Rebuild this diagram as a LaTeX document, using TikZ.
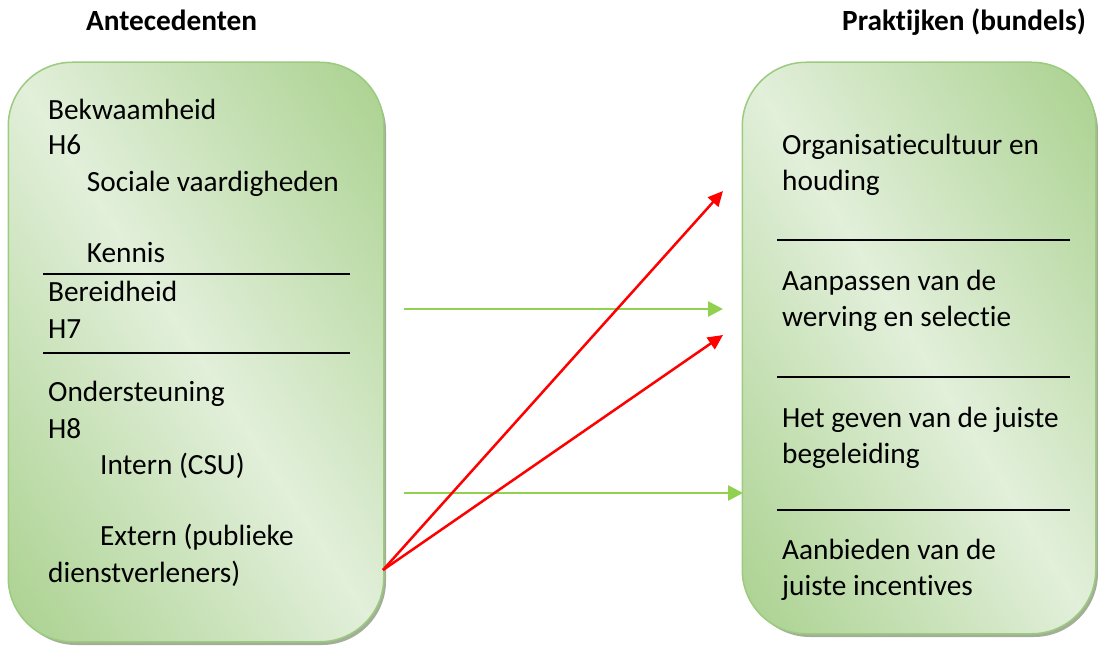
\documentclass[tikz,border=0pt]{standalone}
\usepackage{fontspec}
\setmainfont{Carlito}[Ligatures={NoCommon,NoRare,NoContextual,NoRequired}]
\usetikzlibrary{arrows.meta,shadows}
\definecolor{gdark}{HTML}{A9D18E}
\definecolor{glight}{HTML}{E2EFDA}
\definecolor{gedge}{HTML}{9CCB80}
\definecolor{gshadow}{HTML}{A3AE98}
\definecolor{garrow}{HTML}{92D050}
\definecolor{rarrow}{HTML}{FF0000}
\tikzset{
  panel/.style={draw=gedge, line width=1.5pt, rounded corners=64pt,
    drop shadow={shadow xshift=3pt, shadow yshift=-4pt, fill=gshadow, opacity=1},
    fill=gdark, inner sep=0pt},
  panelrim/.style={draw=gedge, line width=1.5pt, rounded corners=64pt},
  panelshade/.style={left color=gdark, right color=gdark, middle color=glight},
  txt/.style={anchor=base west, inner sep=0pt, font=\fontsize{29.3}{35.8}\selectfont},
  hdr/.style={anchor=base west, inner sep=0pt, font=\fontsize{29.3}{35.8}\selectfont\bfseries},
  sep/.style={black, line width=2pt},
  garr/.style={draw=garrow, line width=2.7pt, -{Triangle[length=15pt,width=15pt]}},
  rarr/.style={draw=rarrow, line width=2.5pt, -{Triangle[length=15pt,width=14pt]}},
}
\begin{document}
\begin{tikzpicture}[x=1pt,y=-1pt]
\useasboundingbox (0,0) rectangle (1098,650);
% headers
\node[hdr] (hA) at (86,30.7) {Antecedenten};
\node[hdr] (hP) at (842,30.7) {Praktijken (bundels)};
% panels
\node[panel, minimum width=374pt, minimum height=578pt] (L) at (196,352) {};
\node[panel, minimum width=352pt, minimum height=570pt] (R) at (919,348) {};
\begin{scope}
  \clip[rounded corners=64pt] (L.north west) rectangle (L.south east);
  \fill[panelshade, transform canvas={shift={(196pt,-352pt)}, rotate=33}] (-318,-420) rectangle (318,420);
\end{scope}
\begin{scope}
  \clip[rounded corners=64pt] (R.north west) rectangle (R.south east);
  \fill[panelshade, transform canvas={shift={(919pt,-348pt)}, rotate=31.7}] (-303,-420) rectangle (303,420);
\end{scope}
\draw[panelrim] (L.north west) rectangle (L.south east);
\draw[panelrim] (R.north west) rectangle (R.south east);
% left texts
\node[txt] (l1) at (48,119.3) {Bekwaamheid};
\node[txt] (l2) at (48,155) {H6};
\node[txt] (l3) at (86.7,191) {Sociale vaardigheden};
\node[txt] (l4) at (86.7,262.7) {Kennis};
\node[txt] (l5) at (48,301.7) {Bereidheid};
\node[txt] (l6) at (48,338.3) {H7};
\node[txt] (l7) at (48,401.7) {Ondersteuning};
\node[txt] (l8) at (48,438.3) {H8};
\node[txt] (l9) at (100,474) {Intern (CSU)};
\node[txt] (l10) at (100,545) {Extern (publieke};
\node[txt] (l11) at (48,582.7) {dienstverleners)};
\draw[sep] (43,274) coordinate (s1a) -- (350,274) coordinate (s1b);
\draw[sep] (43,352.7) coordinate (s2a) -- (350,352.7) coordinate (s2b);
% right texts
\node[txt] (r1) at (782,154) {Organisatiecultuur en};
\node[txt] (r2) at (782,190) {houding};
\node[txt] (r3) at (782,290) {Aanpassen van de};
\node[txt] (r4) at (782,326) {werving en selectie};
\node[txt] (r5) at (782,427) {Het geven van de juiste};
\node[txt] (r6) at (782,463) {begeleiding};
\node[txt] (r7) at (782,559) {Aanbieden van de};
\node[txt] (r8) at (782,595) {juiste incentives};
\draw[sep] (777,240) coordinate (s3a) -- (1070,240) coordinate (s3b);
\draw[sep] (777,377) coordinate (s4a) -- (1070,377) coordinate (s4b);
\draw[sep] (777,510) coordinate (s5a) -- (1070,510) coordinate (s5b);
% arrows
\coordinate (g1s) at (404,309);
\coordinate (g1e) at (723,309);
\coordinate (g2s) at (404,493);
\coordinate (g2e) at (743,493);
\coordinate (rs) at (383,570);
\coordinate (r1e) at (723,191);
\coordinate (r2e) at (723,335);
\draw[garr] (g1s) -- (g1e);
\draw[garr] (g2s) -- (g2e);
\draw[rarr] (rs) -- (r1e);
\draw[rarr] (rs) -- (r2e);
\end{tikzpicture}
\end{document}
